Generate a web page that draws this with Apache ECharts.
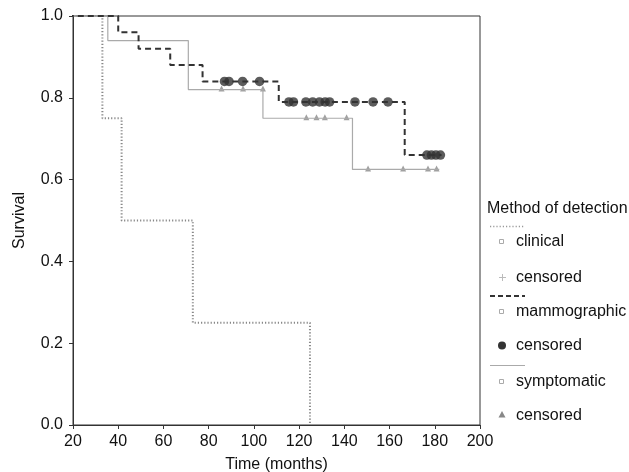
<!DOCTYPE html>
<html>
<head>
<meta charset="utf-8">
<script src="https://cdn.jsdelivr.net/npm/echarts@6/dist/echarts.min.js"></script>
<style>
  html, body { margin: 0; padding: 0; background: #fff; }
  #chart { width: 629px; height: 472px; }
</style>
</head>
<body>
<div id="chart"></div>
<script>
// step points [time, survival]
var clinical = [[0, 1], [33, 0.75], [41.5, 0.5], [73, 0.25], [124.8, 0]];
var mammographic = [[0, 1], [40, 0.96], [49, 0.92], [63, 0.88], [77.3, 0.84], [111, 0.79], [166.7, 0.66], [183, 0.66]];
var symptomatic = [[0, 1], [35.4, 0.94], [71, 0.82], [104, 0.75], [143.6, 0.625], [182, 0.625]];

// censored observations
var mammoCensored = [[87, 0.84], [89, 0.84], [95, 0.84], [102.5, 0.84],
  [115.5, 0.79], [117.5, 0.79], [123, 0.79], [126, 0.79], [129, 0.79], [131.5, 0.79], [133.5, 0.79],
  [144.7, 0.79], [152.7, 0.79], [159.3, 0.79],
  [176.5, 0.66], [178.5, 0.66], [180.5, 0.66], [182.5, 0.66]];
var sympCensored = [[85.7, 0.82], [95.2, 0.82], [104, 0.82],
  [123.2, 0.75], [127.7, 0.75], [131.4, 0.75], [141, 0.75],
  [150.5, 0.625], [166, 0.625], [177, 0.625], [180.8, 0.625]];

var xTicks = { min: 20, max: 200, interval: 20 };
var yTicks = { min: 0, max: 1, interval: 0.2 };

var font = 'Liberation Sans, Arial, sans-serif';
var fs = 16;
var myChart = echarts.init(document.getElementById('chart'));

function label(txt, x, y) {
  return {
    type: 'text', x: x, y: y,
    style: { text: txt, font: fs + 'px ' + font, fill: '#111', verticalAlign: 'middle' }
  };
}

// legend drawn by hand to match the original layout
var legendItems = [
  label('Method of detection', 487, 209),
  { type: 'line', shape: { x1: 490, y1: 226.5, x2: 525, y2: 226.5 }, style: { stroke: '#999', lineWidth: 1.5, lineDash: [1.2, 2] } },
  { type: 'rect', shape: { x: 499.5, y: 239.5, width: 4, height: 4 }, style: { stroke: '#aaa', fill: '#fff', lineWidth: 1 } },
  label('clinical', 516, 242),
  { type: 'line', shape: { x1: 499, y1: 277.5, x2: 506, y2: 277.5 }, style: { stroke: '#bbb', lineWidth: 1 } },
  { type: 'line', shape: { x1: 502.5, y1: 274, x2: 502.5, y2: 281 }, style: { stroke: '#bbb', lineWidth: 1 } },
  label('censored', 516, 277.5),
  { type: 'line', shape: { x1: 490, y1: 296, x2: 525, y2: 296 }, style: { stroke: '#333', lineWidth: 2, lineDash: [5, 3] } },
  { type: 'rect', shape: { x: 499.5, y: 309.5, width: 4, height: 4 }, style: { stroke: '#aaa', fill: '#fff', lineWidth: 1 } },
  label('mammographic', 516, 312),
  { type: 'circle', shape: { cx: 502, cy: 345.5, r: 4 }, style: { fill: '#333' } },
  label('censored', 516, 346),
  { type: 'line', shape: { x1: 490, y1: 365.5, x2: 525, y2: 365.5 }, style: { stroke: '#aaa', lineWidth: 1.2 } },
  { type: 'rect', shape: { x: 499.5, y: 379.5, width: 4, height: 4 }, style: { stroke: '#aaa', fill: '#fff', lineWidth: 1 } },
  label('symptomatic', 516, 382),
  { type: 'polygon', shape: { points: [[502, 411], [505.5, 417.5], [498.5, 417.5]] }, style: { fill: '#888' } },
  label('censored', 516, 415.5)
];

myChart.setOption({
  animation: false,
  backgroundColor: '#fff',
  textStyle: { fontFamily: font },
  grid: {
    left: 73, right: 149, top: 16, bottom: 47,
    outerBoundsMode: 'none',
    show: true, borderColor: '#333', borderWidth: 1
  },
  xAxis: {
    type: 'value',
    min: xTicks.min, max: xTicks.max, interval: xTicks.interval,
    name: 'Time (months)', nameLocation: 'middle', nameGap: 32,
    nameTextStyle: { fontSize: fs, color: '#111' },
    axisLine: { show: true, lineStyle: { color: '#333', width: 1 } },
    axisTick: { show: true, length: 4, lineStyle: { color: '#333' } },
    axisLabel: { fontSize: fs, color: '#111', margin: 9 },
    splitLine: { show: false }
  },
  yAxis: {
    type: 'value',
    min: yTicks.min, max: yTicks.max, interval: yTicks.interval,
    name: 'Survival', nameLocation: 'middle', nameGap: 45, nameRotate: 90,
    nameTextStyle: { fontSize: fs, color: '#111' },
    axisLine: { show: true, lineStyle: { color: '#333', width: 1 } },
    axisTick: { show: true, length: 4, lineStyle: { color: '#333' } },
    axisLabel: { fontSize: fs, color: '#111', margin: 10, formatter: function (v) { return v.toFixed(1); } },
    splitLine: { show: false }
  },
  graphic: legendItems,
  series: [
    {
      name: 'clinical', type: 'line', step: 'end', data: clinical,
      showSymbol: false, silent: true,
      lineStyle: { color: '#888', width: 2, type: [1.2, 2] }
    },
    {
      name: 'symptomatic', type: 'line', step: 'end', data: symptomatic,
      showSymbol: false, silent: true,
      lineStyle: { color: '#aaa', width: 1.2, type: 'solid' }
    },
    {
      name: 'mammographic', type: 'line', step: 'end', data: mammographic,
      showSymbol: false, silent: true,
      lineStyle: { color: '#333', width: 2, type: [6, 4] }
    },
    {
      name: 'symptomatic censored', type: 'scatter', data: sympCensored,
      symbol: 'triangle', symbolSize: 6, symbolOffset: [0, -1],
      itemStyle: { color: '#888' }
    },
    {
      name: 'mammographic censored', type: 'scatter', data: mammoCensored,
      symbol: 'circle', symbolSize: 9.5,
      itemStyle: { color: '#333' }
    }
  ]
});
</script>
</body>
</html>
